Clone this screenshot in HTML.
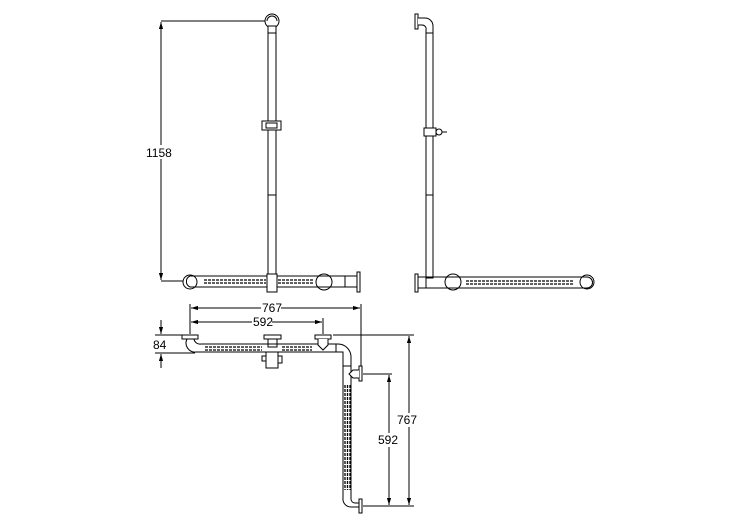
<!DOCTYPE html>
<html><head><meta charset="utf-8"><style>
html,body{margin:0;padding:0;background:#fff;}
svg{display:block;}
text{font-family:"Liberation Sans",sans-serif;font-size:12px;fill:#000;}
</style></head><body>
<svg width="750" height="530" viewBox="0 0 750 530" xmlns="http://www.w3.org/2000/svg" fill="none" stroke="#000" stroke-width="1">
<defs>
<marker id="a" viewBox="0 0 10 10" refX="10" refY="5" markerWidth="7" markerHeight="7" orient="auto-start-reverse"><path d="M0,2 L10,5 L0,8" fill="#000" stroke="none"/></marker>
</defs>

<!-- FRONT VIEW -->
<line x1="161" y1="21" x2="265" y2="21"/>
<line x1="161" y1="281" x2="185" y2="281"/>
<line x1="161" y1="22" x2="161" y2="280" marker-start="url(#a)" marker-end="url(#a)"/>
<rect x="145" y="145" width="30" height="14" fill="#fff" stroke="none"/>
<text x="146" y="157" stroke="none">1158</text>
<circle cx="272" cy="21" r="7" fill="#fff"/>
<path d="M267,21 a5,5 0 0 1 10,0"/>
<rect x="268" y="26" width="8" height="248" fill="#fff"/>
<line x1="268" y1="33" x2="276" y2="33"/>
<line x1="268" y1="195" x2="276" y2="195"/>
<rect x="262" y="121" width="19" height="9" fill="#fff"/>
<rect x="266" y="123" width="11" height="5"/>
<circle cx="190" cy="282" r="7" fill="#fff"/>
<circle cx="324" cy="282" r="8" fill="#fff"/>
<path d="M190,276 L358,276 M190,287 L358,287"/>
<path d="M190,276 a6,6 0 0 0 0,11"/>
<g stroke-dasharray="3,1" stroke-width="1.3">
<line x1="204" y1="280" x2="266" y2="280"/><line x1="204" y1="283" x2="266" y2="283"/>
<line x1="278" y1="280" x2="313" y2="280"/><line x1="278" y1="283" x2="313" y2="283"/>
</g>
<rect x="267" y="274" width="10" height="18" fill="#fff"/>
<line x1="345" y1="276" x2="345" y2="287"/>
<rect x="357" y="272" width="3" height="20" fill="#fff"/>

<!-- SIDE VIEW -->
<rect x="415" y="14" width="3" height="15" fill="#fff"/>
<path d="M418,18 L425,18 a8,8 0 0 1 8,8 L433,278 L426,278 L426,30 a4,4 0 0 0 -4,-5 L418,25" fill="#fff"/>
<line x1="426" y1="33" x2="433" y2="33"/>
<line x1="426" y1="195" x2="433" y2="195"/>
<rect x="424" y="128" width="12" height="8" fill="#fff"/>
<circle cx="439" cy="132" r="3" fill="#fff"/>
<line x1="442" y1="132" x2="447" y2="132"/>
<rect x="415" y="274" width="3" height="18" fill="#fff"/>
<circle cx="453" cy="282" r="8" fill="#fff"/>
<circle cx="587" cy="282" r="7" fill="#fff"/>
<path d="M418,277 L588,277 M418,288 L588,288"/>
<path d="M426,277 L426,288"/>
<path d="M587,277 a5,5 0 0 1 0,11"/>
<g stroke-dasharray="3,1" stroke-width="1.3">
<line x1="466" y1="281" x2="574" y2="281"/><line x1="466" y1="284" x2="574" y2="284"/>
</g>

<!-- TOP VIEW -->
<line x1="190" y1="304" x2="190" y2="334"/>
<line x1="323" y1="318" x2="323" y2="334"/>
<line x1="361" y1="304" x2="361" y2="368"/>
<line x1="191" y1="308" x2="360" y2="308" marker-start="url(#a)" marker-end="url(#a)"/>
<rect x="261" y="302" width="20" height="12" fill="#fff" stroke="none"/>
<text x="262" y="312" stroke="none">767</text>
<line x1="191" y1="322" x2="322" y2="322" marker-start="url(#a)" marker-end="url(#a)"/>
<rect x="252" y="316" width="20" height="12" fill="#fff" stroke="none"/>
<text x="253" y="326" stroke="none">592</text>
<line x1="155" y1="335" x2="185" y2="335"/>
<line x1="155" y1="353" x2="195" y2="353"/>
<line x1="161" y1="320" x2="161" y2="334" marker-end="url(#a)"/>
<line x1="161" y1="368" x2="161" y2="354" marker-end="url(#a)"/>
<text x="153" y="349" stroke="none">84</text>
<line x1="333" y1="335" x2="414" y2="335"/>
<line x1="363" y1="374" x2="392" y2="374"/>
<line x1="363" y1="506" x2="414" y2="506"/>
<line x1="389" y1="375" x2="389" y2="505" marker-start="url(#a)" marker-end="url(#a)"/>
<rect x="378" y="433" width="22" height="14" fill="#fff" stroke="none"/>
<text x="378" y="444" stroke="none">592</text>
<line x1="409" y1="336" x2="409" y2="505" marker-start="url(#a)" marker-end="url(#a)"/>
<rect x="397" y="413" width="22" height="14" fill="#fff" stroke="none"/>
<text x="397" y="424" stroke="none">767</text>
<path d="M187,339 a9,9 0 0 0 9,13 L340,352 L343,352 L343,498 a8,8 0 0 0 8,9 L359,507 L359,503 L355,503 a4,4 0 0 1 -4,-4 L351,356 a13,13 0 0 0 -13,-12 L201,344 a6,6 0 0 1 -7,-5 Z" fill="#fff"/>
<line x1="336" y1="344" x2="336" y2="352"/>
<line x1="343" y1="366" x2="351" y2="366"/>
<g stroke-dasharray="3,1" stroke-width="1.3">
<line x1="205" y1="347" x2="262" y2="347"/><line x1="205" y1="350" x2="262" y2="350"/>
<line x1="282" y1="347" x2="312" y2="347"/><line x1="282" y1="350" x2="312" y2="350"/>
<line x1="345" y1="385" x2="345" y2="490"/><line x1="347.5" y1="385" x2="347.5" y2="490"/><line x1="350" y1="385" x2="350" y2="490"/>
</g>
<rect x="182" y="335" width="16" height="4" fill="#fff"/>
<rect x="264" y="335" width="17" height="4" fill="#fff"/>
<path d="M268,339 L268,347 L277,347 L277,339"/>
<rect x="266" y="352" width="12" height="16" fill="#fff"/>
<path d="M266,356 h-4 v5 h4 M278,356 h4 v7 h-4"/>
<rect x="315" y="335" width="16" height="4" fill="#fff"/>
<path d="M318,339 L318,345 L323,350 L328,345 L328,339" fill="#fff"/>
<rect x="359" y="366" width="3" height="15" fill="#fff"/>
<path d="M359,370 L353,370 L349,374 L353,378 L359,378" fill="#fff"/>
<rect x="359" y="499" width="3" height="14" fill="#fff"/>
</svg>
</body></html>
